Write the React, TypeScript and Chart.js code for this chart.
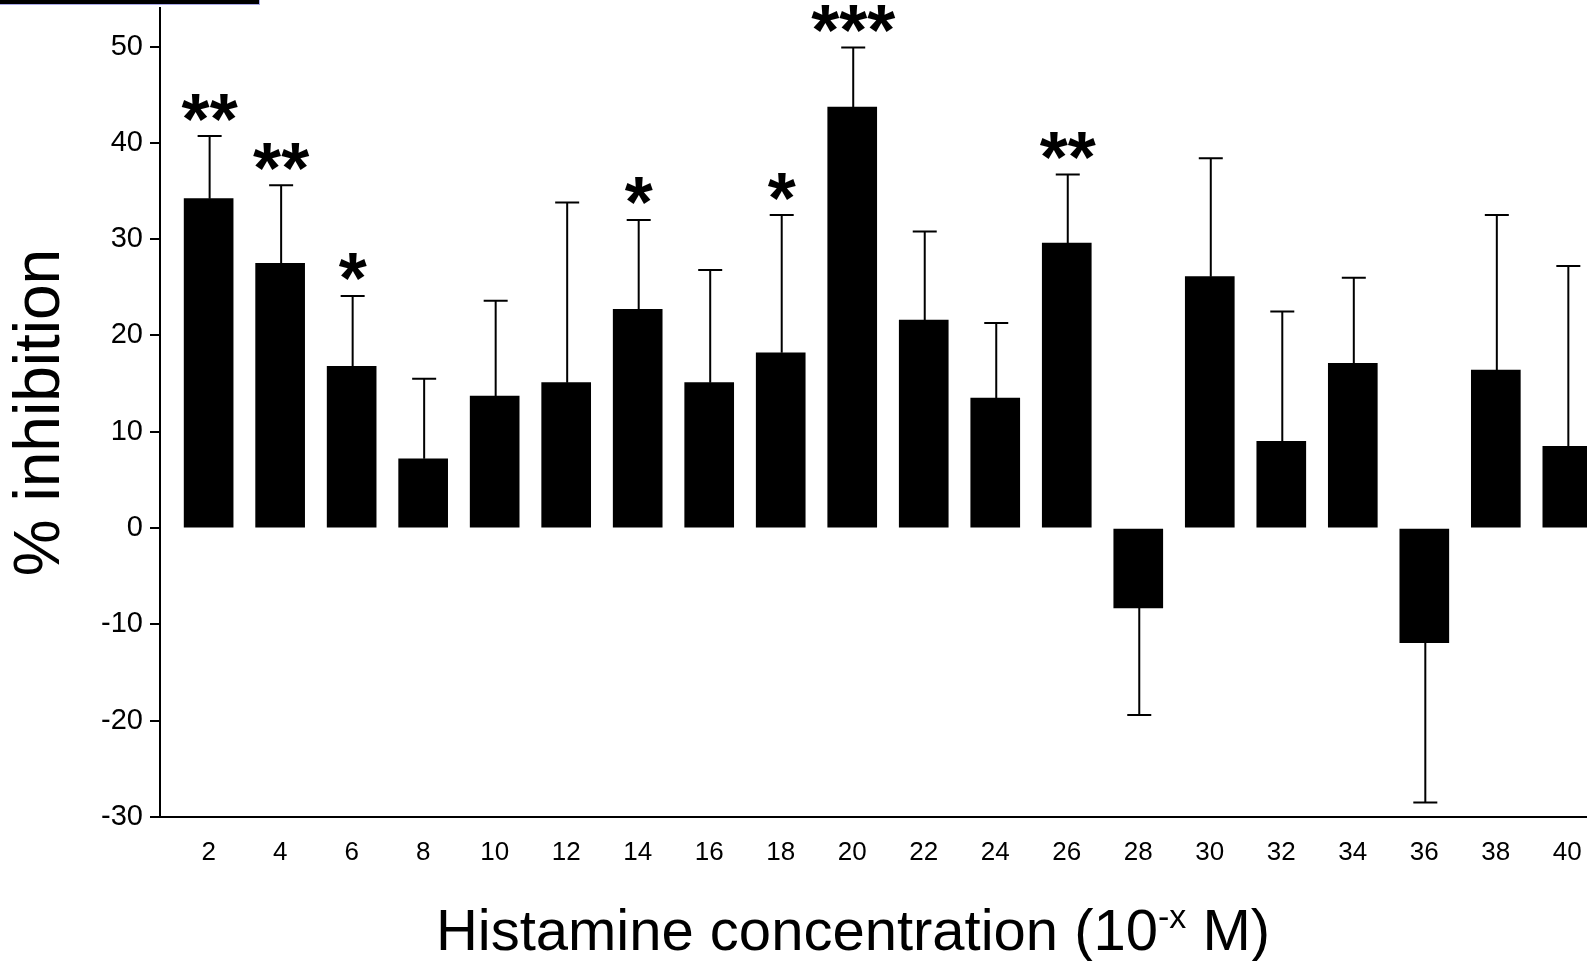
import React, { useEffect, useRef } from "react";
import { Chart, registerables } from "chart.js";

Chart.register(...registerables);

// Histamine concentration exponents (10^-x M)
const categories = [2, 4, 6, 8, 10, 12, 14, 16, 18, 20, 22, 24, 26, 28, 30, 32, 34, 36, 38, 40];
// mean % inhibition
const meanInhibition = [34.2, 27.5, 16.8, 7.2, 13.7, 15.1, 22.7, 15.1, 18.2, 43.7, 21.6, 13.5, 29.6, -8.3, 26.1, 9.0, 17.1, -11.9, 16.4, 8.5];
// SEM (drawn one-sided, away from zero)
const semValues = [6.5, 8.1, 7.3, 8.3, 9.9, 18.7, 9.3, 11.7, 14.3, 6.2, 9.2, 7.8, 7.1, 11.1, 12.3, 13.5, 8.9, 16.6, 16.1, 18.7];
// significance marks
const significance = ["**", "**", "*", "", "", "", "*", "", "*", "***", "", "", "**", "", "", "", "", "", "", ""];
const yTicks = [-30, -20, -10, 0, 10, 20, 30, 40, 50];

const FONT = "'Liberation Sans', Arial, sans-serif";

const errorBarPlugin = {
  id: "errorBars",
  afterDatasetsDraw(chart: any) {
    const ctx = chart.ctx;
    const yScale = chart.scales.y;
    const meta = chart.getDatasetMeta(0);
    ctx.save();
    ctx.strokeStyle = "#000";
    ctx.fillStyle = "#000";
    ctx.lineWidth = 2;
    meta.data.forEach((bar: any, i: number) => {
      const v = meanInhibition[i];
      const end = v >= 0 ? v + semValues[i] : v - semValues[i];
      const x = bar.x + 1;
      const y0 = yScale.getPixelForValue(v);
      const y1 = yScale.getPixelForValue(end);
      ctx.beginPath();
      ctx.moveTo(x, y0);
      ctx.lineTo(x, y1);
      ctx.moveTo(x - 12, y1);
      ctx.lineTo(x + 12, y1);
      ctx.stroke();
      const s = significance[i];
      if (s) {
        ctx.font = `bold 72px ${FONT}`;
        ctx.textAlign = "center";
        ctx.textBaseline = "alphabetic";
        const m = ctx.measureText(s);
        const cy = y1 - 29;
        ctx.fillText(s, x, cy + (m.actualBoundingBoxAscent - m.actualBoundingBoxDescent) / 2);
      }
    });
    ctx.restore();
  },
};

const xTitlePlugin = {
  id: "xTitle",
  afterDraw(chart: any) {
    const ctx = chart.ctx;
    ctx.save();
    ctx.fillStyle = "#000";
    ctx.textBaseline = "alphabetic";
    ctx.textAlign = "left";
    const mainFont = `58px ${FONT}`;
    const supFont = `34px ${FONT}`;
    const main = "Histamine concentration (10";
    const sup = "-x";
    const tail = " M)";
    ctx.font = mainFont;
    const wMain = ctx.measureText(main).width;
    const wTail = ctx.measureText(tail).width;
    ctx.font = supFont;
    const wSup = ctx.measureText(sup).width;
    const total = wMain + wSup + wTail;
    const cx = 853;
    const baseY = 950;
    let x = cx - total / 2;
    ctx.font = mainFont;
    ctx.fillText(main, x, baseY);
    x += wMain;
    ctx.font = supFont;
    ctx.fillText(sup, x, baseY - 22);
    x += wSup;
    ctx.font = mainFont;
    ctx.fillText(tail, x, baseY);
    ctx.restore();
  },
};

export default function App() {
  const canvasRef = useRef<HTMLCanvasElement>(null);

  useEffect(() => {
    if (!canvasRef.current) return;
    const chart = new Chart(canvasRef.current, {
      type: "bar",
      data: {
        datasets: [
          {
            data: categories.map((c, i) => ({ x: c, y: meanInhibition[i] })),
            backgroundColor: "#000",
            borderWidth: 0,
            barThickness: 49,
          },
        ],
      },
      options: {
        animation: false,
        responsive: false,
        layout: { padding: { top: 8, right: 0, left: 0, bottom: 0 } },
        plugins: { legend: { display: false }, tooltip: { enabled: false } },
        scales: {
          x: {
            type: "linear",
            offset: false,
            min: 0.64,
            max: 40.55,
            afterBuildTicks: (scale: any) => {
              scale.ticks = categories.map((v) => ({ value: v }));
            },
            afterFit: (scale: any) => {
              scale.height = 144;
              scale.paddingLeft = 0;
              scale.paddingRight = 0;
            },
            grid: { display: false },
            border: { display: true, color: "#000", width: 2 },
            ticks: {
              color: "#000",
              font: { family: FONT, size: 26 },
              padding: 12,
              maxRotation: 0,
              autoSkip: false,
            },
          },
          y: {
            min: -30,
            max: 54,
            afterBuildTicks: (scale: any) => {
              scale.ticks = yTicks.map((v) => ({ value: v }));
            },
            afterFit: (scale: any) => {
              scale.width = 160;
              scale.paddingTop = 0;
              scale.paddingBottom = 0;
            },
            grid: { drawOnChartArea: false, drawTicks: true, tickLength: 10, color: "#000", lineWidth: 2 },
            border: { display: true, color: "#000", width: 2 },
            ticks: {
              color: "#000",
              font: { family: FONT, size: 29 },
              padding: 7,
            },
            title: {
              display: true,
              text: "% inhibition",
              color: "#000",
              font: { family: FONT, size: 64 },
              padding: { top: 3, bottom: 0 },
            },
          },
        },
      },
      plugins: [errorBarPlugin, xTitlePlugin],
    } as any);
    return () => chart.destroy();
  }, []);

  return (
    <div style={{ position: "fixed", left: 0, top: 0, width: 1587, height: 961, background: "#fff", overflow: "hidden" }}>
      <canvas ref={canvasRef} width={1587} height={961} style={{ display: "block" }} />
      <div
        style={{
          position: "absolute",
          left: 0,
          top: 0,
          width: 259,
          height: 4,
          background: "#000",
          borderRight: "1px solid #a8a8e8",
          borderBottom: "1px solid #a8a8e8",
        }}
      />
    </div>
  );
}
